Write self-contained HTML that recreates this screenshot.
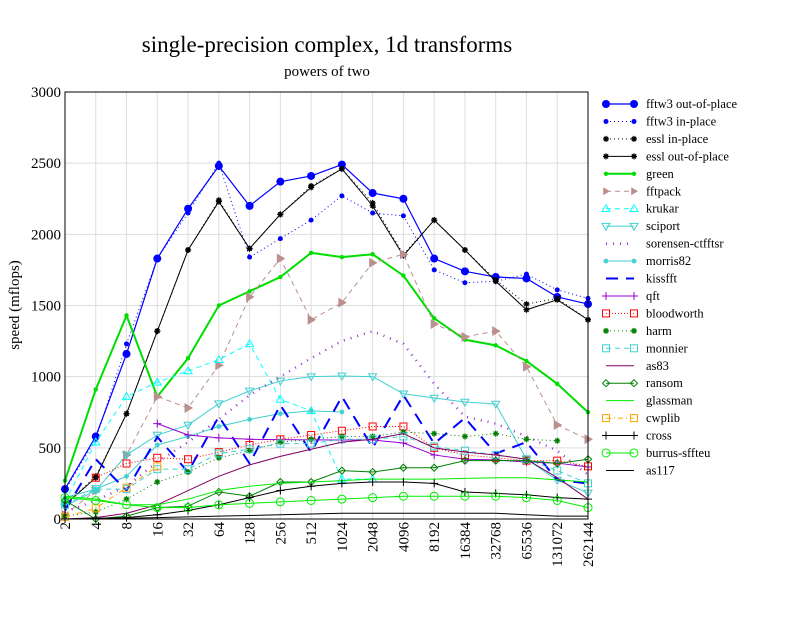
<!DOCTYPE html>
<html><head><meta charset="utf-8"><style>
body{margin:0;background:#fff}
svg text{font-family:"Liberation Serif",serif;fill:#000}
</style></head><body>
<svg id="chart" width="792" height="612" xmlns="http://www.w3.org/2000/svg">
<rect width="792" height="612" fill="#fff"/>
<text x="327" y="52" font-size="23" text-anchor="middle">single-precision complex, 1d transforms</text>
<text x="327" y="76" font-size="15" text-anchor="middle">powers of two</text>
<text transform="translate(19,305) rotate(-90)" font-size="15" text-anchor="middle">speed (mflops)</text>
<g id="grid"></g><g id="series"></g><g id="axes"></g><g id="legend"></g>
</svg>
<script>
const categories=["2","4","8","16","32","64","128","256","512","1024","2048","4096","8192","16384","32768","65536","131072","262144"];
const yTicks=[0,500,1000,1500,2000,2500,3000];
const N=null;
const sFftw3Out=[210,580,1160,1830,2180,2480,2200,2370,2410,2490,2290,2250,1830,1740,1700,1690,1560,1510];
const sFftw3In=[200,560,1230,1830,2150,2500,1840,1970,2100,2270,2150,2130,1750,1660,1670,1720,1610,1550];
const sEsslIn=[100,300,740,1320,1890,2240,1900,2140,2340,2460,2220,1860,2100,1890,1680,1510,1550,1400];
const sEsslOut=[100,290,740,1320,1890,2230,1900,2140,2330,2460,2200,1850,2100,1890,1670,1470,1540,1400];
const sGreen=[270,910,1430,860,1130,1500,1600,1700,1870,1840,1860,1710,1410,1260,1220,1110,950,750];
const sFftpack=[30,200,450,860,780,1080,1560,1830,1400,1520,1800,1860,1370,1280,1320,1070,660,560];
const sKrukar=[120,540,860,960,1040,1120,1230,840,760,280,280,N,N,N,N,N,N,N];
const sSciport=[90,200,450,590,660,810,900,970,1000,1005,1000,880,850,822,808,420,274,183];
const sSorensen=[50,130,230,400,540,700,870,1000,1130,1250,1320,1230,950,720,670,580,480,310];
const sMorris=[150,210,300,520,580,650,700,740,760,752,N,N,N,N,N,N,N,N];
const sKiss=[60,420,200,576,330,720,390,800,470,860,500,870,530,710,460,540,274,250];
const sQft=[N,N,N,670,590,570,560,558,556,555,555,534,450,420,415,400,393,365];
const sBlood=[N,290,390,430,420,470,520,560,590,620,650,650,500,450,430,410,410,370];
const sHarm=[20,50,140,260,330,430,480,540,560,580,580,610,600,580,600,560,550,N];
const sMonnier=[100,210,210,350,350,460,490,530,530,560,560,580,510,480,450,420,340,250];
const sAs83=[0,10,40,100,200,300,380,440,490,540,560,600,500,470,450,420,290,140];
const sRansom=[130,0,20,80,90,190,160,260,260,340,330,360,360,410,410,410,390,420];
const sGlass=[160,140,100,100,140,200,230,250,260,270,280,280,280,285,290,290,275,260];
const sCwplib=[15,75,220,370,N,N,N,N,N,N,N,N,N,N,N,N,N,N];
const sCross=[0,5,10,30,60,100,150,200,230,250,260,260,250,190,180,170,150,140];
const sBurrus=[150,130,100,80,80,100,110,120,130,140,150,160,160,160,160,150,130,80];
const sAs117=[0,0,5,10,15,20,25,30,35,40,40,40,40,40,40,30,20,20];

const X0=65,X1=588,Y0=519,Y1=92;
const xs=i=>X0+(X1-X0)*i/(categories.length-1);
const ys=v=>Y0-(Y0-Y1)*v/3000;
const NS="http://www.w3.org/2000/svg";
function mk(tag,at,parent){const e=document.createElementNS(NS,tag);for(const k in at)e.setAttribute(k,at[k]);parent.appendChild(e);return e;}
const grid=document.getElementById('grid'),axes=document.getElementById('axes'),ser=document.getElementById('series'),leg=document.getElementById('legend');
categories.forEach((c,i)=>{
 const g=mk('line',{x1:xs(i),x2:xs(i),y1:Y1,y2:Y0,stroke:'#ddd','stroke-width':1},grid);
 
 
 const t=mk('text',{transform:`translate(${xs(i)+5},${Y0+3}) rotate(-90)`,'font-size':15,'text-anchor':'end'},axes);
 t.textContent=c;
 
 
});
yTicks.forEach(v=>{
 const g=mk('line',{x1:X0,x2:X1,y1:ys(v),y2:ys(v),stroke:'#ddd','stroke-width':1},grid);
 
 
 const t=mk('text',{x:X0-4,y:ys(v)+5,'font-size':15,'text-anchor':'end'},axes);
 t.textContent=v;
 
 
});
const fr=mk('rect',{x:X0,y:Y1,width:X1-X0,height:Y0-Y1,fill:'none',stroke:'#000','stroke-width':1},axes);



const defs=[
 ['fftw3 out-of-place',sFftw3Out,'#0000ff','',1.2,'circ',4],
 ['fftw3 in-place',sFftw3In,'#0000ff','1 3',1,'dot',2.5],
 ['essl in-place',sEsslIn,'#000','1 3',1,'ast',3],
 ['essl out-of-place',sEsslOut,'#000','',1,'ast',3],
 ['green',sGreen,'#00dd00','',2,'dot',2.2],
 ['fftpack',sFftpack,'#bc8f8f','5 4',1,'tri',5],
 ['krukar',sKrukar,'#00ffff','5 4',1,'tup',4],
 ['sciport',sSciport,'#40d0d0','',1,'tdn',4],
 ['sorensen-ctfftsr',sSorensen,'#9932cc','1 6',2.5,'none',0],
 ['morris82',sMorris,'#40d0d0','',1,'ast',2.5],
 ['kissfft',sKiss,'#0000ff','12 8',2,'none',0],
 ['qft',sQft,'#9400d3','',1,'plus',4],
 ['bloodworth',sBlood,'#ff0000','1 2',1,'sq',3.5],
 ['harm',sHarm,'#008000','1 3',1,'ast',3],
 ['monnier',sMonnier,'#40d0d0','5 4',1,'sq',3.5],
 ['as83',sAs83,'#800060','',1,'none',0],
 ['ransom',sRansom,'#008000','',1,'dia',3.5],
 ['glassman',sGlass,'#00ee00','',1,'none',0],
 ['cwplib',sCwplib,'#ffa500','5 3 1 3',1,'sq',3.5],
 ['cross',sCross,'#000','',1,'plus',4],
 ['burrus-sffteu',sBurrus,'#00ee00','',1,'ocirc',4],
 ['as117',sAs117,'#000','',1,'none',0]
];
function marker(t,x,y,c,s,p){
 if(t==='none')return;
 let e;
 if(t==='circ'||t==='dot')e=mk('circle',{cx:x,cy:y,r:s,fill:c},p);
 else if(t==='ocirc')e=mk('circle',{cx:x,cy:y,r:s,fill:'none',stroke:c},p);
 else if(t==='sq')e=mk('rect',{x:x-s,y:y-s,width:2*s,height:2*s,fill:'none',stroke:c},p);
 else if(t==='tri')e=mk('polygon',{points:`${x-s*.7},${y-s} ${x+s},${y} ${x-s*.7},${y+s}`,fill:c},p);
 else if(t==='tup')e=mk('polygon',{points:`${x},${y-s} ${x+s},${y+s*.7} ${x-s},${y+s*.7}`,fill:'none',stroke:c},p);
 else if(t==='tdn')e=mk('polygon',{points:`${x},${y+s} ${x+s},${y-s*.7} ${x-s},${y-s*.7}`,fill:'none',stroke:c},p);
 else if(t==='dia')e=mk('polygon',{points:`${x},${y-s} ${x+s},${y} ${x},${y+s} ${x-s},${y}`,fill:'none',stroke:c},p);
 else if(t==='plus')e=mk('path',{d:`M${x-s},${y}H${x+s}M${x},${y-s}V${y+s}`,stroke:c},p);
 else if(t==='ast')e=mk('path',{d:`M${x-s},${y}H${x+s}M${x},${y-s}V${y+s}M${x-s*.7},${y-s*.7}L${x+s*.7},${y+s*.7}M${x-s*.7},${y+s*.7}L${x+s*.7},${y-s*.7}`,stroke:c,'stroke-width':1.3},p);
 
 
}
defs.forEach((d,k)=>{
 const [name,vals,col,dash,w,mt,ms]=d;
 const g=mk('g',{},ser);
 
 
 let segs=[],cur=[];
 vals.forEach((v,i)=>{if(v===null){if(cur.length)segs.push(cur);cur=[];}else cur.push(xs(i)+','+ys(v));});
 if(cur.length)segs.push(cur);
 segs.forEach(s=>{const l=mk('polyline',{points:s.join(' '),fill:'none',stroke:col,'stroke-width':w,'stroke-dasharray':dash},g);
  
  });
 vals.forEach((v,i)=>{if(v!==null)marker(mt,xs(i),ys(v),col,ms,g);});
 const ly=104+k*17.45;
 const lg=mk('g',{},leg);
 
 
 mk('line',{x1:606,x2:634,y1:ly,y2:ly,stroke:col,'stroke-width':w,'stroke-dasharray':dash},lg);
 marker(mt,606,ly,col,Math.min(ms,4),lg);marker(mt,634,ly,col,Math.min(ms,4),lg);
 const t=mk('text',{x:646,y:ly+4,'font-size':12.5},lg);
 t.textContent=name;
 
 
});
</script>
</body></html>
